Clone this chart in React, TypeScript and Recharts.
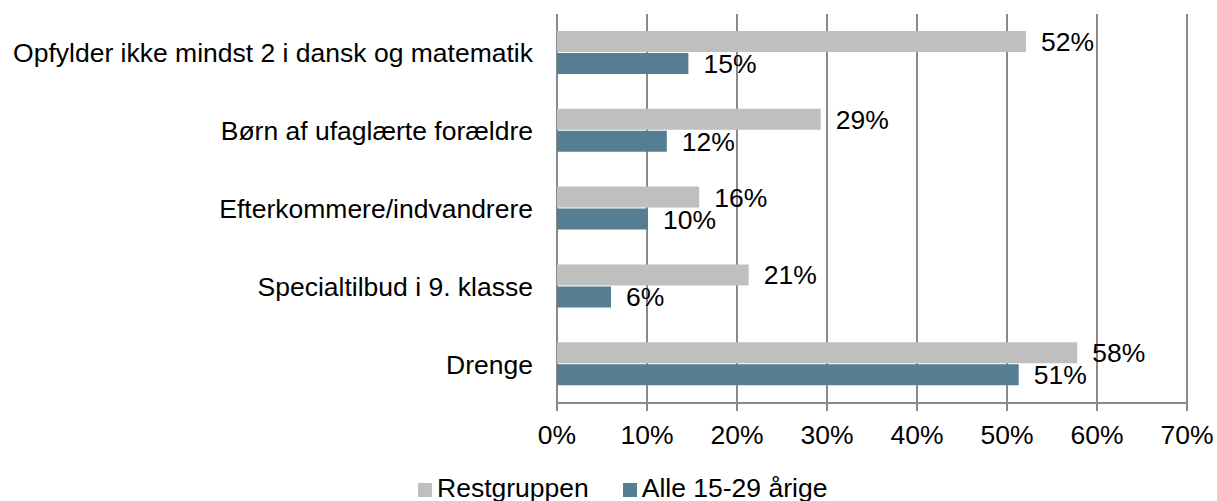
import { Bar, BarChart, CartesianGrid, LabelList, Legend, XAxis, YAxis } from "recharts";

const categories = [
  "Opfylder ikke mindst 2 i dansk og matematik",
  "Børn af ufaglærte forældre",
  "Efterkommere/indvandrere",
  "Specialtilbud i 9. klasse",
  "Drenge",
];
const restgruppen = [52.1, 29.3, 15.8, 21.3, 57.8];
const alle1529 = [14.6, 12.2, 10.1, 6.0, 51.3];
const xTicks = [0, 10, 20, 30, 40, 50, 60, 70];
const frameTicks = [0, 1, 2, 3, 4, 5];

const data = categories.map((name, i) => ({ name, rest: restgruppen[i], alle: alle1529[i] }));

const FONT = '"Liberation Sans", Arial, sans-serif';
const FS = 26.5;
const GRAY = "#bfbfbf";
const BLUE = "#567e93";
const AXIS = "#8a8a8a";

const renderValue = (props: any) => {
  const { x, y, width, height, value } = props;
  return (
    <text
      x={x + width + 15}
      y={y + height / 2 + 0.5}
      dominantBaseline="central"
      fontSize={FS}
      fontFamily={FONT}
      fill="#000"
    >
      {Math.round(value)}%
    </text>
  );
};

const square = (color: string) => (
  <span style={{ display: "inline-block", width: 14, height: 14, background: color, marginRight: 5, verticalAlign: "baseline" }} />
);

const renderLegend = () => (
  <div
    style={{
      fontFamily: FONT,
      fontSize: FS,
      color: "#000",
      paddingLeft: 418,
      paddingTop: 2,
      height: 30,
      lineHeight: "30px",
      boxSizing: "border-box",
      whiteSpace: "nowrap",
    }}
  >
    {square(GRAY)}
    <span style={{ marginRight: 34 }}>Restgruppen</span>
    {square(BLUE)}
    <span>Alle 15-29 årige</span>
  </div>
);

export default function App() {
  return (
    <div style={{ position: "absolute", left: 0, top: 0, background: "#fff" }}>
      <BarChart
        width={1217}
        height={501}
        data={data}
        layout="vertical"
        margin={{ top: 14, right: 30, bottom: 0, left: 0 }}
        barSize={21}
        barGap={1}
      >
        <CartesianGrid horizontal={false} stroke={AXIS} strokeWidth={2} yAxisId="cat" />
        <XAxis
          type="number"
          domain={[0, 70]}
          ticks={xTicks}
          height={68}
          tickFormatter={(v) => `${v}%`}
          stroke={AXIS}
          strokeWidth={2}
          tickSize={8}
          tickMargin={14}
          tick={{ fill: "#000", fontSize: FS, fontFamily: FONT }}
        />
        <YAxis
          yAxisId="frame"
          type="number"
          domain={[0, 5]}
          ticks={frameTicks}
          allowDataOverflow
          width={0}
          stroke={AXIS}
          strokeWidth={2}
          tickSize={8}
          tick={false}
        />
        <YAxis
          yAxisId="cat"
          type="category"
          dataKey="name"
          width={557}
          axisLine={false}
          tickLine={false}
          tickSize={8}
          tickMargin={16}
          tick={{ fill: "#000", fontSize: FS, fontFamily: FONT }}
        />
        <Legend verticalAlign="bottom" height={30} content={renderLegend} />
        <Bar yAxisId="cat" dataKey="rest" name="Restgruppen" fill={GRAY} isAnimationActive={false}>
          <LabelList dataKey="rest" content={renderValue} />
        </Bar>
        <Bar yAxisId="cat" dataKey="alle" name="Alle 15-29 årige" fill={BLUE} isAnimationActive={false}>
          <LabelList dataKey="alle" content={renderValue} />
        </Bar>
      </BarChart>
    </div>
  );
}
